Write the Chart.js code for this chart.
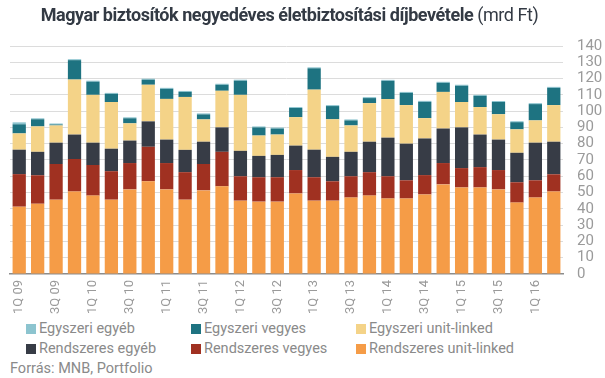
<!DOCTYPE html>
<html>
<head>
<meta charset="utf-8">
<script src="https://cdn.jsdelivr.net/npm/chart.js@4"></script>
<style>
  html, body { margin: 0; padding: 0; background: #fff; }
  #wrap { position: relative; width: 605px; height: 378px; overflow: hidden; font-family: Roboto, "Noto Sans", sans-serif; }
  #title { position: absolute; top: 4px; left: -13px; width: 605px; text-align: center; font-size: 18px; color: #333a44; white-space: nowrap; letter-spacing: -0.45px; }
  #title b { font-weight: 700; }
  #chartBox { position: absolute; left: 0; top: 0; width: 605px; height: 320px; }
  #legend { position: absolute; left: 0; top: 320px; width: 605px; }
  .li { position: absolute; font-size: 14.5px; color: #8a8a8a; white-space: nowrap; line-height: 18px; }
  .li span.box { display: inline-block; width: 10px; height: 10px; margin-right: 3px; vertical-align: -1px; }
  #source { position: absolute; left: 10px; top: 360px; font-size: 14.5px; color: #8a8a8a; line-height: 18px; }
</style>
</head>
<body>
<div id="wrap">
  <div id="chartBox"><canvas id="c" width="605" height="320"></canvas></div>
  <div id="title"><b>Magyar biztosítók negyedéves életbiztosítási díjbevétele</b> (mrd Ft)</div>
  <div id="legend"></div>
  <div id="source">Forrás: MNB, Portfolio</div>
</div>
<script>
const quarters = [
  "1Q 09","2Q 09","3Q 09","4Q 09",
  "1Q 10","2Q 10","3Q 10","4Q 10",
  "1Q 11","2Q 11","3Q 11","4Q 11",
  "1Q 12","2Q 12","3Q 12","4Q 12",
  "1Q 13","2Q 13","3Q 13","4Q 13",
  "1Q 14","2Q 14","3Q 14","4Q 14",
  "1Q 15","2Q 15","3Q 15","4Q 15",
  "1Q 16","2Q 16"
];
const rendszeresUnitLinked = [41.3,43.1,45.6,50.6, 48.1,45.6,51.9,56.9, 51.9,45.6,51.3,53.8, 45.0,44.4,44.4,49.4, 45.0,45.0,46.9,48.1, 46.3,46.3,48.8,55.0, 53.1,53.1,51.9,43.8, 46.9,50.6];
const rendszeresVegyes     = [20.0,17.5,21.9,20.0, 18.8,17.5,16.2,21.2, 16.2,16.9,16.2,21.2, 15.0,15.0,15.0,14.4, 14.4,11.9,13.1,14.4, 13.7,11.2,11.9,13.1, 11.9,12.5,11.9,12.5, 10.6,10.6];
const rendszeresEgyeb      = [15.0,14.4,13.1,15.0, 13.7,13.8,13.8,15.6, 14.4,13.7,13.7,15.0, 15.6,13.1,13.7,15.0, 16.9,15.0,15.0,18.7, 23.7,22.5,22.5,21.2, 25.0,20.0,18.7,18.1, 23.1,20.0];
const egyszeriUnitLinked   = [10.0,15.6,10.6,33.8, 29.4,28.7,10.6,22.5, 25.0,32.5,13.7,22.5, 34.4,12.5,12.5,17.5, 36.9,23.1,16.2,23.7, 23.7,23.7,12.5,22.5, 15.6,16.9,15.6,14.4, 13.7,22.5];
const egyszeriVegyes       = [5.6,4.4,0.6,11.9, 8.1,5.0,3.1,3.1, 6.2,3.1,3.1,3.7, 8.7,5.0,3.7,5.6, 13.1,8.1,3.1,3.1, 11.2,7.5,10.0,5.6, 10.0,6.9,7.5,4.4, 10.0,10.6];
const egyszeriEgyeb        = [1.2,0.6,0.6,0.6, 0.6,0.6,0.6,0.6, 0.6,0.6,0.6,0.6, 0.6,0.6,0.6,0.6, 0.6,0.6,0.6,0.6, 0.6,0.6,0.6,0.6, 0.6,0.6,0.6,0.6, 0.6,0.6];
const yTicks = [0,10,20,30,40,50,60,70,80,90,100,110,120,130,140];

const series = [
  { label: "Rendszeres unit-linked", data: rendszeresUnitLinked, color: "#f59c47" },
  { label: "Rendszeres vegyes",      data: rendszeresVegyes,     color: "#a03121" },
  { label: "Rendszeres egyéb",       data: rendszeresEgyeb,      color: "#373c46" },
  { label: "Egyszeri unit-linked",   data: egyszeriUnitLinked,   color: "#f4d388" },
  { label: "Egyszeri vegyes",        data: egyszeriVegyes,       color: "#1e7381" },
  { label: "Egyszeri egyéb",         data: egyszeriEgyeb,        color: "#8cc4cf" }
];

const chart = new Chart(document.getElementById('c'), {
  type: 'bar',
  data: {
    labels: quarters,
    datasets: series.map(s => ({
      label: s.label, data: s.data, backgroundColor: s.color,
      borderWidth: 0, barPercentage: 0.72, categoryPercentage: 1.0
    }))
  },
  options: {
    responsive: false,
    animation: false,
    layout: { padding: { left: 10, right: 0, top: 46, bottom: 0 } },
    plugins: { legend: { display: false }, tooltip: { enabled: false }, title: { display: false } },
    scales: {
      x: {
        stacked: true,
        grid: { display: false, drawTicks: false },
        border: { display: true, color: '#8c8c8c', width: 1.5 },
        ticks: {
          autoSkip: false, minRotation: 90, maxRotation: 90, padding: 6,
          color: '#9a9a9a', font: { family: 'Roboto', size: 13 },
          callback: function(v, i) { return i % 2 === 0 ? quarters[i] : ''; }
        }
      },
      y: {
        stacked: true, position: 'right', min: 0, max: 140,
        afterBuildTicks: axis => { axis.ticks = yTicks.map(v => ({ value: v })); },
        afterFit: axis => { axis.width = 42; },
        grid: { color: '#dcdcdc', lineWidth: 1, drawTicks: false },
        border: { display: false },
        ticks: { autoSkip: false, color: '#9a9a9a', font: { family: 'Roboto', size: 15 }, padding: 14 }
      }
    }
  }
});

// HTML legend built from chart datasets (legend order reversed: top of stack first)
const legendEl = document.getElementById('legend');
const order = [5,4,3,2,1,0];
const cols = [26, 191, 356];
order.forEach((di, k) => {
  const ds = chart.data.datasets[di];
  const d = document.createElement('div');
  d.className = 'li';
  d.style.left = cols[k % 3] + 'px';
  d.style.top = (k < 3 ? 0 : 20) + 'px';
  d.innerHTML = '<span class="box" style="background:' + ds.backgroundColor + '"></span>' + ds.label;
  legendEl.appendChild(d);
});
</script>
</body>
</html>
